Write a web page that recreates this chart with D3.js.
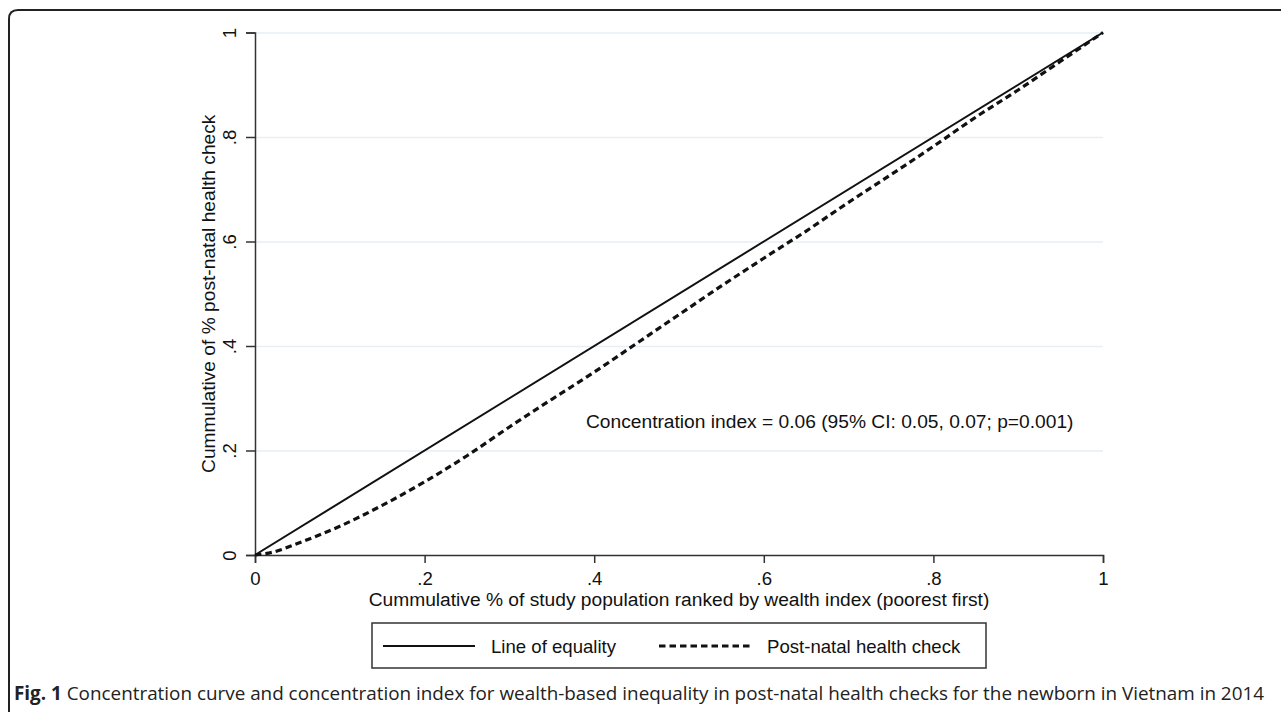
<!DOCTYPE html>
<html>
<head>
<meta charset="utf-8">
<script src="https://cdn.jsdelivr.net/npm/d3@7"></script>
<style>
body{margin:0;background:#fff;}
svg{display:block;font-family:"Liberation Sans",Arial,Helvetica,sans-serif;}
.axis path,.axis line{stroke:#333;stroke-width:1.5;}
.axis text{font-size:18.6px;fill:#111;font-family:"Liberation Sans",Arial,sans-serif;}
.grid line{stroke:#e6eff3;stroke-width:1.5;}
.grid path{display:none;}
.t_label{font-size:19.2px;fill:#111;}
.t_legend{font-size:18.6px;fill:#111;}
.caption{font-family:"Open Sans","Noto Sans",sans-serif;font-size:17px;fill:#222;}
</style>
</head>
<body>
<svg width="1281" height="712"></svg>
<script>

/* ----------------------------------------------------------
data
---------------------------------------------------------- */

var xTicks = [0, 0.2, 0.4, 0.6, 0.8, 1];
var yTicks = [0, 0.2, 0.4, 0.6, 0.8, 1];
var tickLabels = ["0", ".2", ".4", ".6", ".8", "1"];

// line of equality
var equalityX = [0, 1];
var equalityY = [0, 1];

// concentration curve
var curveX = [0, 0.02, 0.05, 0.1, 0.15, 0.2, 0.25, 0.3, 0.35, 0.4, 0.45, 0.5, 0.55, 0.6, 0.65, 0.7, 0.75, 0.8, 0.85, 0.9, 0.95, 1];
var curveY = [0, 0.005, 0.022, 0.055, 0.095, 0.14, 0.19, 0.245, 0.298, 0.35, 0.405, 0.46, 0.515, 0.568, 0.62, 0.675, 0.728, 0.782, 0.838, 0.89, 0.945, 1];

var legendVals = ["Line of equality", "Post-natal health check"];
var xTitle = "Cummulative % of study population ranked by wealth index (poorest first)";
var yTitle = "Cummulative of % post-natal health check";
var note = "Concentration index = 0.06 (95% CI: 0.05, 0.07; p=0.001)";
var capBold = "Fig. 1";
var capText = " Concentration curve and concentration index for wealth-based inequality in post-natal health checks for the newborn in Vietnam in 2014";

/* ----------------------------------------------------------
setting
---------------------------------------------------------- */

var svg = d3.select("svg");
var x = d3.scaleLinear().domain([0, 1]).range([255, 1103]);
var y = d3.scaleLinear().domain([0, 1]).range([555, 32.5]);
var plotW = x(1) - x(0);

// frame (rounded corner at top-left, runs off the page)
svg.append("path")
	.attr("d", "M9,712 V19 Q9,10 18,10 H1281")
	.style("fill", "none").style("stroke", "#222").style("stroke-width", 2);

//grid
svg.append("g").attr("class", "grid").attr("transform", "translate(" + x(0) + ",0)")
	.call(d3.axisLeft(y).tickValues(yTicks.slice(1)).tickSize(-plotW).tickFormat(""));

//axis
var gy = svg.append("g").attr("class", "axis").attr("transform", "translate(" + x(0) + ",0)")
	.call(d3.axisLeft(y).tickValues(yTicks).tickSizeOuter(0).tickSize(9)
		.tickFormat(function(d, i){ return tickLabels[i]; }));
gy.selectAll("text")
	.attr("x", 0).attr("y", -19).attr("dy", 0)
	.attr("transform", "rotate(-90)")
	.style("text-anchor", "middle");

var gx = svg.append("g").attr("class", "axis").attr("transform", "translate(0," + y(0) + ")")
	.call(d3.axisBottom(x).tickValues(xTicks).tickSizeOuter(0).tickSize(8)
		.tickFormat(function(d, i){ return tickLabels[i]; }));
gx.selectAll("text").attr("y", 30).attr("dy", 0);

//lines
var line = d3.line()
	.x(function(d){ return x(d[0]); })
	.y(function(d){ return y(d[1]); });

svg.append("path")
	.attr("d", line(d3.zip(equalityX, equalityY)))
	.style("fill", "none").style("stroke", "#111").style("stroke-width", 2);

svg.append("path")
	.attr("d", line.curve(d3.curveMonotoneX)(d3.zip(curveX, curveY)))
	.style("fill", "none").style("stroke", "#111").style("stroke-width", 3.2)
	.style("stroke-dasharray", "6.5,4");

//text
svg.append("text").attr("class", "t_label")
	.attr("x", (x(0) + x(1)) / 2).attr("y", 606)
	.style("text-anchor", "middle").text(xTitle);
svg.append("text").attr("class", "t_label")
	.attr("transform", "translate(215," + ((y(0) + y(1)) / 2) + ") rotate(-90)")
	.style("text-anchor", "middle").text(yTitle);
svg.append("text").attr("class", "t_label")
	.attr("x", 586).attr("y", 428).text(note);

//legend
var gLegend = svg.append("g").attr("transform", "translate(372,623)");
gLegend.append("rect")
	.attr("width", 614).attr("height", 45)
	.style("fill", "#fff").style("stroke", "#333").style("stroke-width", 1.5);

var legs = gLegend.selectAll(".legends")
	.data(legendVals)
	.enter().append("g")
	.attr("class", "legends")
	.attr("transform", function(d, i){ return "translate(" + (11 + i * 276) + ",23)"; });

legs.append("line")
	.attr("x1", 0).attr("x2", 92).attr("y1", 0).attr("y2", 0)
	.style("stroke", "#111")
	.style("stroke-width", function(d, i){ return i == 0 ? 2 : 3.2; })
	.style("stroke-dasharray", function(d, i){ return i == 0 ? null : "6.5,4"; });

legs.append("text").attr("class", "t_legend")
	.attr("x", 108).attr("y", 7)
	.text(function(d){ return d; });

//caption
var cap = svg.append("text").attr("class", "caption").attr("x", 14).attr("y", 700);
cap.append("tspan").style("font-weight", "bold").text(capBold);
cap.append("tspan").text(capText);
var capW = cap.node().getComputedTextLength();
cap.style("font-size", (17 * 1251 / capW) + "px");

</script>
</body>
</html>
